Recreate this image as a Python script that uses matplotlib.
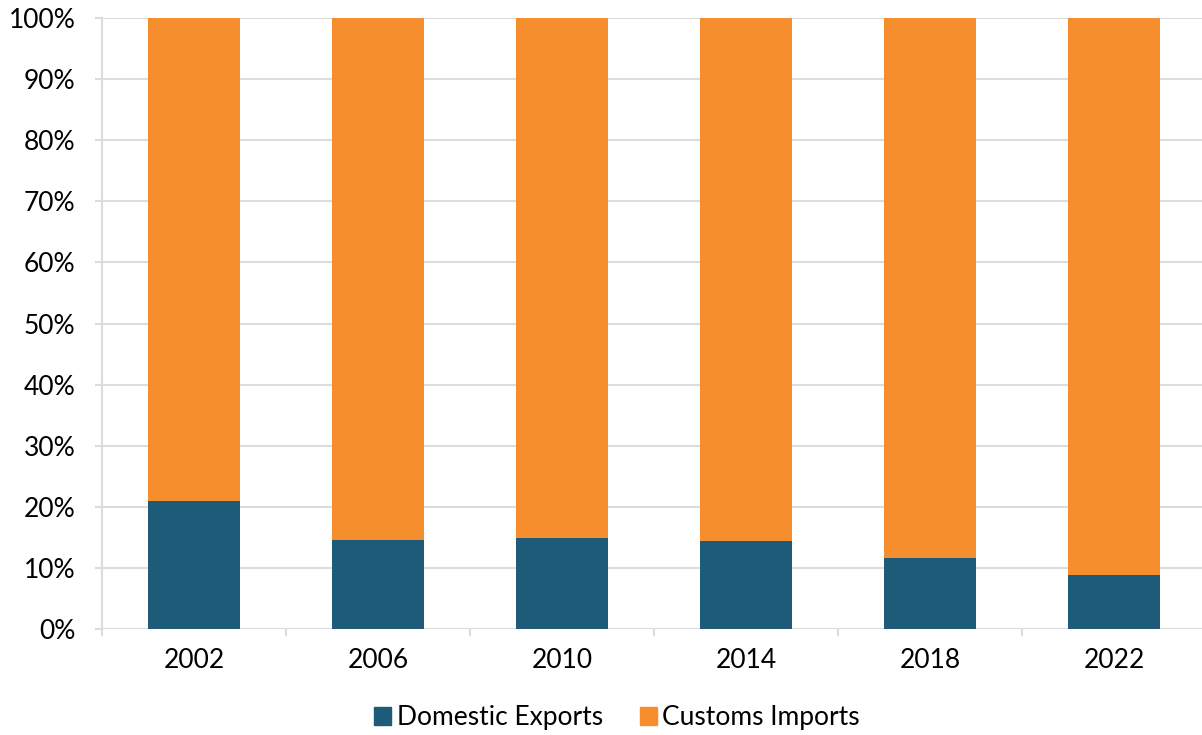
import matplotlib.pyplot as plt
from matplotlib.patches import Patch
from matplotlib.ticker import PercentFormatter

plt.rcParams['font.family'] = ['Lato', 'DejaVu Sans']

years = ['2002', '2006', '2010', '2014', '2018', '2022']
domestic_exports = [20.9, 14.6, 14.9, 14.4, 11.6, 8.8]
customs_imports = [100 - v for v in domestic_exports]

blue = '#1e5b79'
orange = '#f78e2d'
grid = '#dcdcdc'

fig = plt.figure(figsize=(12.02, 7.35), dpi=100)
ax = fig.add_axes([102 / 1202, 1 - 629 / 735, 1104 / 1202, 611 / 735])

x = range(len(years))
ax.bar(x, domestic_exports, width=0.5, color=blue, zorder=3)
ax.bar(x, customs_imports, width=0.5, bottom=domestic_exports, color=orange, zorder=3)

ax.set_xlim(-0.5, len(years) - 0.5)
ax.set_ylim(0, 100)
ax.set_yticks(range(0, 101, 10))
ax.yaxis.set_major_formatter(PercentFormatter(decimals=0))
ax.set_xticks(list(x))
ax.set_xticklabels(years)
ax.set_xticks([i - 0.5 for i in range(len(years) + 1)], minor=True)

ax.grid(axis='y', color=grid, linewidth=1.5, zorder=0)
for side in ['top', 'right', 'bottom']:
    ax.spines[side].set_visible(False)
ax.spines['left'].set_color(grid)
ax.spines['left'].set_linewidth(1.5)
ax.axhline(0, color=grid, linewidth=1.5, zorder=2)

ax.tick_params(axis='y', length=5, width=1.5, color=grid, labelsize=19, pad=14)
ax.tick_params(axis='x', which='major', length=0, labelsize=19, pad=14)
ax.tick_params(axis='x', which='minor', length=5, width=1.5, color=grid)

handles = [Patch(color=blue, label='Domestic Exports'),
           Patch(color=orange, label='Customs Imports')]
fig.legend(handles=handles, loc='center', bbox_to_anchor=(617 / 1202, 1 - 718 / 735),
           ncol=2, frameon=False, fontsize=19, handlelength=0.65, handleheight=0.65,
           handletextpad=0.2, columnspacing=1.4)

fig.savefig('out.png', dpi=100)
